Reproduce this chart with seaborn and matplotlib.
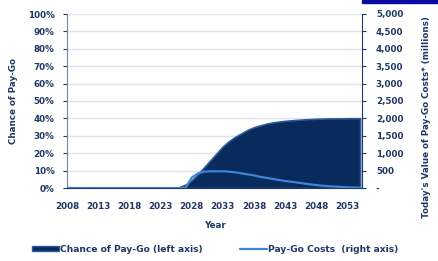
import numpy as np
import pandas as pd
import matplotlib
matplotlib.use("Agg")
import matplotlib.pyplot as plt
import seaborn as sns
from matplotlib.patches import Patch, Rectangle
from matplotlib.lines import Line2D
from matplotlib.ticker import FuncFormatter, MultipleLocator

# Dados
anos = list(range(2008, 2056))
chance = [0] * 18 + [0.5, 2, 4.5, 8, 12, 16, 20, 24, 27, 29.5, 31.5, 33.5, 35, 36, 37,
                     37.7, 38.2, 38.6, 38.9, 39.2, 39.4, 39.6, 39.8, 39.9, 40, 40, 40,
                     40.1, 40.1, 40.1]
custos = [0] * 20 + [300, 420, 470, 480, 480, 480, 470, 450, 420, 390, 360, 320, 290,
                     260, 230, 200, 180, 155, 130, 105, 85, 65, 50, 40, 30, 20, 15, 10]
rotulos_x = list(range(2008, 2054, 5))

df = pd.DataFrame({"Ano": anos, "Chance": chance, "Custos": custos})

sns.set_style("white")
plt.rcParams["font.family"] = ["DejaVu Sans"]
plt.rcParams["font.weight"] = "bold"

navy = "#1f3864"
area_cor = "#082a5c"
linha_cor = "#3d85d8"
fs = 6.3

fig = plt.figure(figsize=(4.39, 2.61), dpi=100)
ax = fig.add_axes([67 / 439, 1 - 188 / 261, (362 - 67) / 439, (188 - 14) / 261])

ax.fill_between(df["Ano"], df["Chance"], color=area_cor, edgecolor="#2f5a9a", linewidth=1.2, zorder=2)
ax.set_xlim(2008, 2055.3)
ax.set_ylim(0, 100)
ax.yaxis.set_major_locator(MultipleLocator(10))
ax.yaxis.set_major_formatter(FuncFormatter(lambda v, p: f"{int(v)}%"))
ax.set_xticks(rotulos_x)
ax.xaxis.set_minor_locator(MultipleLocator(1))
ax.grid(axis="y", color="#dfe5ee", linewidth=1, zorder=0)
ax.set_axisbelow(True)

ax2 = ax.twinx()
sns.lineplot(data=df, x="Ano", y="Custos", ax=ax2, color=linha_cor, linewidth=1.6, zorder=3)
ax2.set_ylim(0, 5000)
ax2.yaxis.set_major_locator(MultipleLocator(500))
ax2.yaxis.set_major_formatter(FuncFormatter(lambda v, p: "-" if v == 0 else f"{int(v):,}"))
ax2.set_xlim(2008, 2055.3)

for a in (ax, ax2):
    for s in a.spines.values():
        s.set_visible(False)
    a.tick_params(colors=navy, labelsize=fs, length=3, width=0.8)
    a.tick_params(axis="x", which="minor", length=2.5, width=0.8, colors=navy)
ax.tick_params(axis="y", pad=6)
ax2.tick_params(axis="y", pad=7)
ax.tick_params(axis="x", pad=7)
ax.spines["left"].set_visible(True)
ax.spines["left"].set_color("#6f84a8")
ax.spines["bottom"].set_visible(True)
ax.spines["bottom"].set_color(navy)
ax2.spines["right"].set_visible(True)
ax2.spines["right"].set_color(navy)

ax.set_xlabel("Year", color=navy, fontsize=fs, fontweight="bold")
ax.xaxis.set_label_coords(0.5, -0.19)
ax.set_ylabel("Chance of Pay-Go", color=navy, fontsize=fs, fontweight="bold")
ax.yaxis.set_label_coords(-0.165, 0.5)
ax2.set_ylabel("Today's Value of Pay-Go Costs* (millions)", color=navy, fontsize=fs,
               fontweight="bold")
ax2.yaxis.set_label_coords(1.205, 0.41)

handles = [Patch(facecolor=area_cor, edgecolor="#2f5a9a", label="Chance of Pay-Go (left axis)"),
           Line2D([0], [0], color=linha_cor, linewidth=1.6, label="Pay-Go Costs  (right axis)")]
fig.legend(handles=handles, loc="center", bbox_to_anchor=(0.49, 0.045), ncol=2, frameon=False,
           fontsize=6.6, labelcolor=navy, handlelength=3, handleheight=0.6, handletextpad=0.1,
           columnspacing=4)

fig.patches.append(Rectangle((362 / 439, 1 - 3 / 261), 77 / 439, 3 / 261,
                             transform=fig.transFigure, color="#0a0aa0"))

fig.savefig("out.png", dpi=100)
